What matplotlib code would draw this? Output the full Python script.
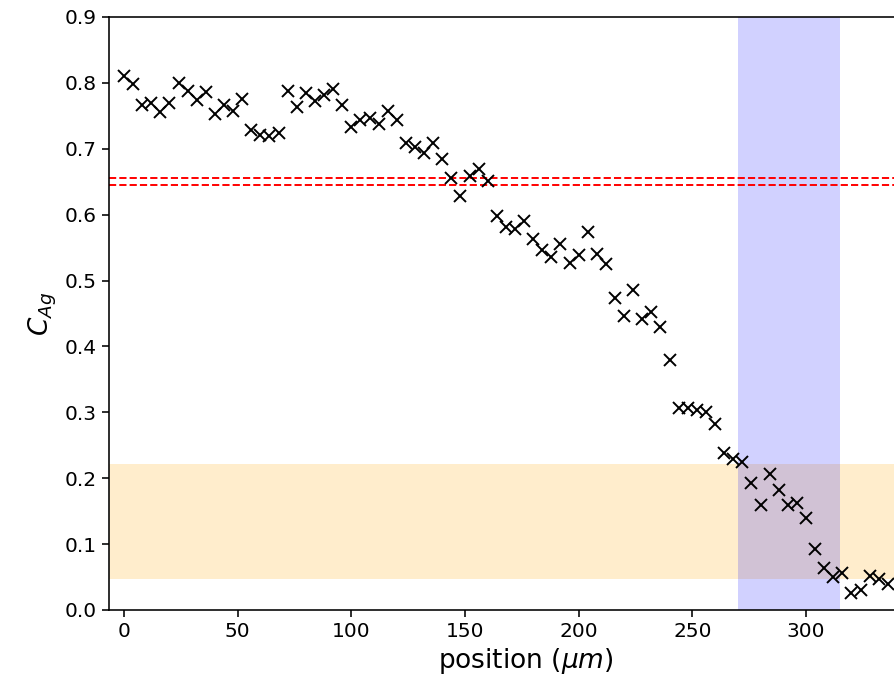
import numpy as np
import matplotlib
matplotlib.use("Agg")
import matplotlib.pyplot as plt

# measured silver concentration along the line scan
position = np.arange(0, 340, 4)
c_ag = [0.810, 0.798, 0.766, 0.770, 0.756, 0.770, 0.800, 0.788, 0.774, 0.786,
        0.753, 0.767, 0.758, 0.776, 0.729, 0.721, 0.720, 0.724, 0.788, 0.763,
        0.785, 0.772, 0.781, 0.791, 0.767, 0.733, 0.743, 0.746, 0.738, 0.758,
        0.743, 0.708, 0.703, 0.693, 0.708, 0.685, 0.656, 0.629, 0.658, 0.670,
        0.651, 0.598, 0.581, 0.578, 0.591, 0.563, 0.547, 0.535, 0.556, 0.526,
        0.538, 0.573, 0.541, 0.525, 0.473, 0.446, 0.485, 0.442, 0.452, 0.429,
        0.380, 0.306, 0.306, 0.303, 0.301, 0.282, 0.238, 0.229, 0.224, 0.192,
        0.159, 0.207, 0.182, 0.159, 0.162, 0.140, 0.092, 0.063, 0.050, 0.056,
        0.026, 0.031, 0.052, 0.047, 0.039]

ref_lines = [0.645, 0.655]
band_c = (0.047, 0.222)
band_x = (270, 315)

fig = plt.figure(figsize=(8.94, 6.93), dpi=100)
# axes run past the right edge of the figure, like the cropped original
ax = fig.add_axes([0.1214, 0.1198, 0.9327, 0.8557])

ax.axhspan(band_c[0], band_c[1], color='orange', alpha=0.2, lw=0)
ax.axvspan(band_x[0], band_x[1], color='blue', alpha=0.18, lw=0)
for y in ref_lines:
    ax.axhline(y, color='red', ls='--', lw=1.4)

ax.plot(position, c_ag, 'x', color='black', ms=9, mew=1.4)

ax.set_xlim(-6.8, 360)
ax.set_ylim(0, 0.9)
ax.set_xticks(np.arange(0, 301, 50))
ax.set_yticks(np.arange(0, 0.91, 0.1))
ax.tick_params(labelsize=14.5, width=1.15, length=5)
for s in ax.spines.values():
    s.set_linewidth(1.15)

ax.set_xlabel(r'position ($\mu m$)', fontsize=19)
ax.set_ylabel(r'$C_{Ag}$', fontsize=19)

fig.savefig('out.png', dpi=100)
